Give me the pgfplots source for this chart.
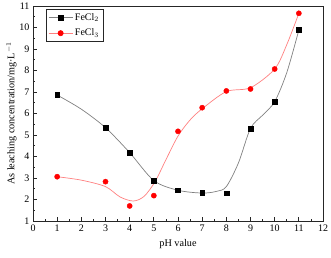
\documentclass[border=0pt]{standalone}
\usepackage{pgfplots}
\pgfplotsset{compat=1.18}
\usepackage{fontspec}
\setmainfont{Liberation Serif}
\definecolor{linegray}{HTML}{808080}
\definecolor{linered}{HTML}{FF8080}
\begin{document}
\begin{tikzpicture}
\begin{axis}[
  scale only axis, width=290pt, height=215pt,
  xmin=0, xmax=12, ymin=1, ymax=11,
  xtick={0,...,12}, ytick={1,...,11},
  minor tick num=1,
  tick align=inside, tick pos=left,
  major tick length=4pt, minor tick length=2pt,
  axis line style={line width=0.9pt, black!85},
  every tick/.style={black!85, line width=0.7pt},
  /pgf/number format/assume math mode=true,
  tick label style={font=\fontsize{10}{11}\selectfont},
  label style={font=\fontsize{10.2}{11}\selectfont},
  xlabel={pH value},
  ylabel={As leaching concentration/mg·L$^{-1}$},
  xlabel style={yshift=-1pt},
  ylabel style={yshift=-4pt},
  legend style={at={(0.045,0.985)}, anchor=north west, draw=black!85, line width=0.6pt,
    font=\fontsize{10}{11}\selectfont, row sep=3pt, inner sep=2pt},
  legend cell align=left,
  legend image code/.code={\draw[mark repeat=2,mark phase=2] plot coordinates {(0cm,0cm)(0.42cm,0cm)(0.84cm,0cm)};},
]
% fitted curves
\addplot[linegray, line width=0.7pt, smooth, forget plot] coordinates {
(1,6.86) (2,6.2) (3,5.34) (4,4.18) (5,2.88) (6,2.43) (7,2.3) (7.6,2.38) (8,2.6) (8.5,3.7) (9,5.31) (9.5,5.92) (10,6.55) (10.5,7.9) (11,9.88)};
\addplot[linered, line width=0.7pt, smooth, forget plot] coordinates {
(1,3.06) (2,2.9) (3,2.6) (3.6,2.12) (4.15,1.93) (4.6,2.15) (5.05,2.83) (5.5,3.85) (6,4.95) (6.5,5.7) (7,6.22) (8,7.02) (9,7.2) (10,8.07) (10.5,9.2) (11,10.66)};
% data points
\addplot[only marks, mark=square*, mark size=2.4pt, black, forget plot] coordinates {
(1,6.86) (3,5.34) (4,4.18) (5,2.88) (6,2.43) (7,2.33) (8,2.29) (9,5.31) (10,6.55) (11,9.88)};
\addplot[only marks, mark=*, mark size=2.6pt, red, forget plot] coordinates {
(1,3.06) (3,2.83) (4,1.70) (5,2.18) (6,5.17) (7,6.27) (8,7.05) (9,7.14) (10,8.07) (11,10.66)};
\addlegendimage{linegray, line width=0.7pt, mark=square*, mark size=2.4pt, mark options={black, fill=black}}
\addlegendentry{FeCl$_2$}
\addlegendimage{linered, line width=0.7pt, mark=*, mark size=2.6pt, mark options={red, fill=red}}
\addlegendentry{FeCl$_3$}
\end{axis}
\pgfresetboundingbox
\path[use as bounding box] (-33pt,-36pt) rectangle (298pt,221pt);
\end{tikzpicture}
\end{document}
